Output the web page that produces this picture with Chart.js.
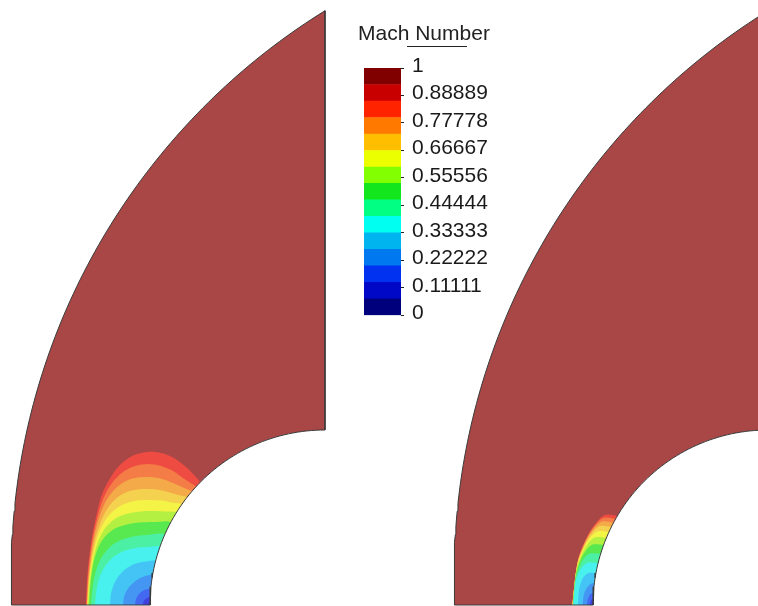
<!DOCTYPE html>
<html>
<head>
<meta charset="utf-8">
<script src="https://cdn.jsdelivr.net/npm/chart.js@4.4.1/dist/chart.umd.min.js"></script>
<style>
  html, body { margin: 0; padding: 0; background: #ffffff; }
  #stage { position: relative; width: 758px; height: 606px; overflow: hidden; }
  #field { position: absolute; left: 0; top: 0; }
  #legend { position: absolute; left: 344px; top: 0; }
  #legendTitle { position: absolute; left: 358px; top: 20px; font: 21px 'Liberation Sans', Arial, sans-serif;
                 line-height: 25px; color: #222; white-space: nowrap; }
  #legendRule { position: absolute; left: 407px; top: 46px; width: 60px; height: 0; border-top: 1.5px solid #222; }
</style>
</head>
<body>
<div id="stage">
  <canvas id="field" width="758" height="606"></canvas>
  <canvas id="legend" width="170" height="336"></canvas>
  <div id="legendTitle">Mach Number</div>
  <div id="legendRule"></div>
</div>
<script>
// Mach-number flood levels: 15 bands between 0 and 1
const machLevels = [0, 0.06667, 0.13333, 0.2, 0.26667, 0.33333, 0.4, 0.46667,
                    0.53333, 0.6, 0.66667, 0.73333, 0.8, 0.86667, 0.93333, 1];

// Legend ticks and their printed labels
const legendTickValues = [0, 0.11111, 0.22222, 0.33333, 0.44444, 0.55556, 0.66667, 0.77778, 0.88889, 1];
const legendTickLabels = ['0', '0.11111', '0.22222', '0.33333', '0.44444', '0.55556',
                          '0.66667', '0.77778', '0.88889', '1'];

// Band colours, lowest Mach first: legend swatches and the (lighter) flood shading
const legendColors = ['#00007d', '#0008c8', '#0032f0', '#0078f0', '#00b4f0', '#00fff0', '#00ff82',
                      '#14e61e', '#82ff00', '#ebff00', '#ffbe00', '#ff7800', '#ff2300', '#c80000', '#800000'];
const floodColors  = ['#3a3aa8', '#4040dc', '#4468f0', '#4496f2', '#44c4f4', '#48f0ee', '#4cf0a4',
                      '#58e850', '#b4f042', '#f4f446', '#f4d250', '#f4aa48', '#f47c46', '#ee4c42', '#a84745'];

// Case A (left): iso-Mach lines as [x, y], body centre at the origin, body radius 1.75.
// Each line runs from the symmetry axis to just inside the body wall.
const isoLeft01 = [[-1.77, 0], [-1.764, 0.02], [-1.75, 0.028], [-1.735, 0.03]];
const isoLeft02 = [[-1.82, 0], [-1.812, 0.04], [-1.79, 0.065], [-1.76, 0.077], [-1.735, 0.08]];
const isoLeft03 = [[-1.90, 0], [-1.89, 0.06], [-1.86, 0.11], [-1.815, 0.145], [-1.77, 0.16], [-1.73, 0.16]];
const isoLeft04 = [[-2.02, 0], [-2.01, 0.08], [-1.98, 0.15], [-1.93, 0.21], [-1.865, 0.26], [-1.795, 0.29], [-1.71, 0.30]];
const isoLeft05 = [[-2.15, 0], [-2.14, 0.11], [-2.11, 0.21], [-2.055, 0.30], [-1.98, 0.37], [-1.89, 0.415], [-1.79, 0.435], [-1.68, 0.44]];
const isoLeft06 = [[-2.30, 0], [-2.285, 0.15], [-2.25, 0.29], [-2.19, 0.40], [-2.11, 0.485], [-2.01, 0.54], [-1.89, 0.57], [-1.77, 0.58], [-1.635, 0.58]];
const isoLeft07 = [[-2.34, 0], [-2.322, 0.19], [-2.285, 0.36], [-2.225, 0.49], [-2.14, 0.59], [-2.04, 0.65], [-1.92, 0.685], [-1.79, 0.70], [-1.585, 0.70]];
const isoLeft08 = [[-2.36, 0], [-2.345, 0.22], [-2.315, 0.42], [-2.265, 0.58], [-2.195, 0.69], [-2.10, 0.765], [-1.98, 0.805], [-1.85, 0.825], [-1.71, 0.83], [-1.525, 0.82]];
const isoLeft09 = [[-2.37, 0], [-2.352, 0.23], [-2.322, 0.44], [-2.275, 0.62], [-2.205, 0.76], [-2.11, 0.855], [-1.99, 0.91], [-1.85, 0.935], [-1.71, 0.94], [-1.59, 0.935], [-1.475, 0.92]];
const isoLeft10 = [[-2.375, 0], [-2.357, 0.25], [-2.327, 0.47], [-2.282, 0.66], [-2.22, 0.81], [-2.135, 0.925], [-2.03, 1.00], [-1.91, 1.04], [-1.78, 1.05], [-1.65, 1.045], [-1.53, 1.025], [-1.42, 0.995]];
const isoLeft11 = [[-2.378, 0], [-2.362, 0.25], [-2.335, 0.47], [-2.295, 0.67], [-2.24, 0.84], [-2.165, 0.98], [-2.07, 1.08], [-1.95, 1.14], [-1.82, 1.16], [-1.69, 1.155], [-1.57, 1.13], [-1.47, 1.10], [-1.365, 1.065]];
const isoLeft12 = [[-2.382, 0], [-2.368, 0.25], [-2.344, 0.47], [-2.31, 0.68], [-2.26, 0.87], [-2.19, 1.04], [-2.10, 1.16], [-1.99, 1.24], [-1.87, 1.275], [-1.75, 1.28], [-1.63, 1.26], [-1.52, 1.22], [-1.43, 1.18], [-1.36, 1.15], [-1.315, 1.125]];
const isoLeft13 = [[-2.386, 0], [-2.374, 0.25], [-2.352, 0.47], [-2.32, 0.68], [-2.275, 0.88], [-2.215, 1.07], [-2.13, 1.22], [-2.02, 1.33], [-1.90, 1.39], [-1.77, 1.41], [-1.64, 1.39], [-1.52, 1.34], [-1.42, 1.27], [-1.33, 1.21], [-1.275, 1.17]];
const isoLeft14 = [[-2.39, 0], [-2.38, 0.25], [-2.36, 0.47], [-2.33, 0.68], [-2.29, 0.88], [-2.24, 1.08], [-2.16, 1.25], [-2.06, 1.39], [-1.93, 1.49], [-1.78, 1.53], [-1.64, 1.52], [-1.51, 1.47], [-1.39, 1.38], [-1.30, 1.29], [-1.24, 1.21]];

// Case B (right): iso-Mach lines as [angle from the axis in degrees, distance from the wall]
const isoRight01 = [[0, 0.012], [0.29, 0.011], [0.46, 0.009], [0.55, 0.006], [0.62, 0.004], [0.65, 0]];
const isoRight02 = [[0, 0.03], [0.88, 0.027], [1.37, 0.021], [1.67, 0.016], [1.86, 0.009], [1.96, 0]];
const isoRight03 = [[0, 0.06], [1.77, 0.054], [2.75, 0.043], [3.34, 0.032], [3.73, 0.019], [3.93, 0]];
const isoRight04 = [[0, 0.105], [3.25, 0.094], [5.05, 0.075], [6.14, 0.055], [6.86, 0.033], [7.22, 0]];
const isoRight05 = [[0, 0.15], [4.74, 0.145], [7.38, 0.130], [8.96, 0.109], [10.01, 0.078], [10.54, 0]];
const isoRight06 = [[0, 0.195], [6.25, 0.189], [9.72, 0.169], [11.81, 0.142], [13.20, 0.102], [13.89, 0]];
const isoRight07 = [[0, 0.199], [7.63, 0.193], [11.87, 0.173], [14.41, 0.145], [16.10, 0.104], [16.95, 0]];
const isoRight08 = [[0, 0.201], [9.02, 0.195], [14.04, 0.175], [17.04, 0.146], [19.05, 0.105], [20.05, 0]];
const isoRight09 = [[0, 0.203], [10.13, 0.197], [15.75, 0.176], [19.13, 0.148], [21.38, 0.106], [22.5, 0]];
const isoRight10 = [[0, 0.204], [11.09, 0.198], [17.26, 0.177], [20.95, 0.149], [23.42, 0.106], [24.65, 0]];
const isoRight11 = [[0, 0.206], [11.92, 0.200], [18.54, 0.179], [22.52, 0.150], [25.17, 0.108], [26.49, 0]];
const isoRight12 = [[0, 0.207], [12.65, 0.201], [19.68, 0.180], [23.89, 0.151], [26.70, 0.108], [28.11, 0]];
const isoRight13 = [[0, 0.208], [13.24, 0.202], [20.60, 0.181], [25.02, 0.151], [27.96, 0.109], [29.43, 0]];
const isoRight14 = [[0, 0.21], [13.76, 0.203], [21.40, 0.182], [25.98, 0.153], [29.04, 0.110], [30.57, 0]];

const leftIsolines = [isoLeft01, isoLeft02, isoLeft03, isoLeft04, isoLeft05, isoLeft06, isoLeft07,
                      isoLeft08, isoLeft09, isoLeft10, isoLeft11, isoLeft12, isoLeft13, isoLeft14];
const rightIsolines = [isoRight01, isoRight02, isoRight03, isoRight04, isoRight05, isoRight06, isoRight07,
                       isoRight08, isoRight09, isoRight10, isoRight11, isoRight12, isoRight13, isoRight14];

// Grid geometry
const BODY_R = 1.75;                                   // cylinder radius
const CASE_SHIFT = 4.43;                               // x offset of case B
const FAR_FIELD = { cx: 3.485, cy: 0.311, r: 6.623 };  // outer boundary circle of case A

const deg = Math.PI / 180;
function arc(cx, cy, r, a0, a1, steps) {
  const pts = [];
  for (let i = 0; i <= steps; i++) {
    const a = (a0 + (a1 - a0) * i / steps) * deg;
    pts.push({ x: cx + r * Math.cos(a), y: cy + r * Math.sin(a) });
  }
  return pts;
}
const ffStart = 180 + Math.asin(FAR_FIELD.cy / FAR_FIELD.r) / deg;  // where the boundary meets the axis
const ffEnd = Math.acos(-FAR_FIELD.cx / FAR_FIELD.r) / deg;          // where it meets the outflow edge

function domainPath(dx) {
  const outer = arc(FAR_FIELD.cx + dx, FAR_FIELD.cy, FAR_FIELD.r, ffStart, ffEnd, 90);
  const wall = arc(dx, 0, BODY_R, 90, 180, 60);
  return outer.concat(wall, [{ x: outer[0].x, y: outer[0].y }]);
}
function bodyPath(dx) {
  return [{ x: dx, y: 0 }].concat(arc(dx, 0, BODY_R, 90, 180, 60));
}
function wallPoint(cx, angle, gap) {
  const r = BODY_R + gap;
  return { x: cx - r * Math.cos(angle * deg), y: r * Math.sin(angle * deg) };
}

function fillSet(points, color, tension) {
  return {
    data: points, showLine: true, fill: 'shape', backgroundColor: color,
    borderWidth: 0, pointRadius: 0, pointHoverRadius: 0, tension: tension
  };
}
function lineSet(points) {
  return {
    data: points, showLine: true, fill: false, borderColor: '#3a3a3a',
    borderWidth: 1, pointRadius: 0, pointHoverRadius: 0, tension: 0
  };
}

const datasets = [];
// case A
datasets.push(fillSet(domainPath(0), floodColors[14], 0));
for (let k = 14; k >= 1; k--) {
  const pts = leftIsolines[k - 1].map(([x, y]) => ({ x, y }));
  pts.push({ x: -0.75, y: 0 });
  datasets.push(fillSet(pts, floodColors[k - 1], 0.3));
}
datasets.push(fillSet(bodyPath(0), '#ffffff', 0));
datasets.push(lineSet(domainPath(0)));
// case B
datasets.push(fillSet(domainPath(CASE_SHIFT), floodColors[14], 0));
for (let k = 14; k >= 1; k--) {
  const line = rightIsolines[k - 1];
  const pts = line.map(([a, g]) => wallPoint(CASE_SHIFT, a, g));
  pts.push(wallPoint(CASE_SHIFT, line[line.length - 1][0], -0.04));
  pts.push({ x: CASE_SHIFT - 0.75, y: 0 });
  datasets.push(fillSet(pts, floodColors[k - 1], 0.3));
}
datasets.push(fillSet(bodyPath(CASE_SHIFT), '#ffffff', 0));
datasets.push(lineSet(domainPath(CASE_SHIFT)));
// first entry painted first
datasets.forEach((d, i) => { d.order = -i; });

Chart.defaults.font.family = "'Liberation Sans', Arial, Helvetica, sans-serif";

new Chart(document.getElementById('field'), {
  type: 'line',
  data: { datasets },
  options: {
    responsive: false, animation: false, events: [], devicePixelRatio: 1,
    layout: { padding: 0, autoPadding: false },
    plugins: { legend: { display: false }, tooltip: { enabled: false } },
    scales: {
      x: { type: 'linear', display: false, min: -3.25, max: 4.33 },
      y: { type: 'linear', display: false, min: -0.01, max: 6.05 }
    }
  }
});

new Chart(document.getElementById('legend'), {
  type: 'bar',
  data: {
    labels: ['Mach Number'],
    datasets: legendColors.map((c, i) => ({
      data: [[machLevels[i], machLevels[i + 1]]],
      backgroundColor: c, borderWidth: 0,
      barPercentage: 1, categoryPercentage: 1, grouped: false
    }))
  },
  options: {
    responsive: false, animation: false, events: [], devicePixelRatio: 1,
    layout: { padding: { left: 20, right: 0, top: 68, bottom: 0 } },
    plugins: { legend: { display: false }, tooltip: { enabled: false } },
    scales: {
      x: { display: false },
      y: {
        position: 'right', min: 0, max: 1,
        afterFit: s => { s.width = 113; },
        afterBuildTicks: s => { s.ticks = legendTickValues.map(v => ({ value: v })); },
        ticks: {
          autoSkip: false, color: '#1a1a1a', font: { size: 21 }, padding: 8, labelOffset: -2,
          callback: (v, i) => legendTickLabels[i]
        },
        grid: { drawOnChartArea: false, drawTicks: true, tickLength: 3, color: '#222' },
        border: { display: false }
      }
    }
  }
});
</script>
</body>
</html>
